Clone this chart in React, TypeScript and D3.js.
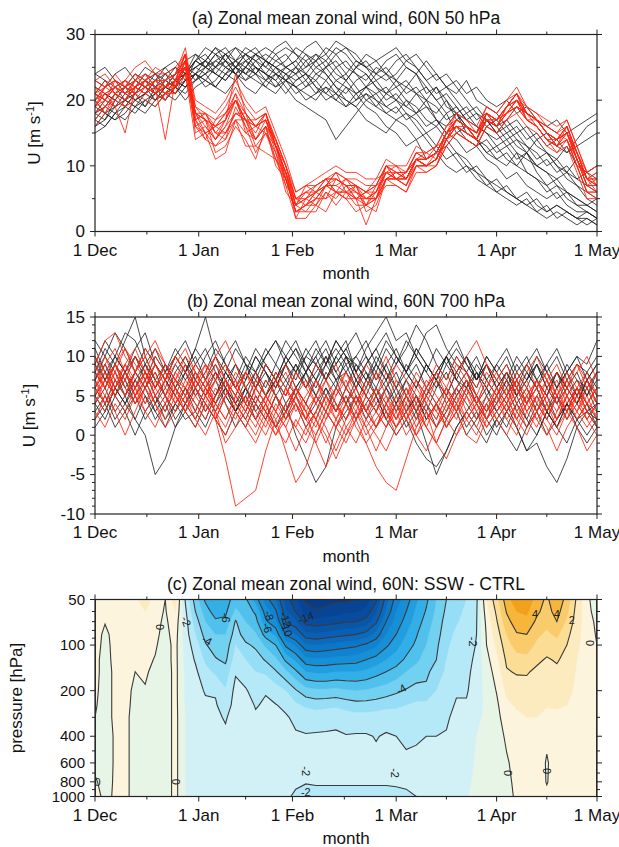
import React from "react";
import * as d3 from "d3";

// ---------- shared axis data ----------
const DAYS = d3.range(0, 151, 3); // sample days since 1 Dec (0..150)
const monthTickDays = [0, 31, 59, 90, 120, 150];
const monthLabels = ["1 Dec", "1 Jan", "1 Feb", "1 Mar", "1 Apr", "1 May"];
const minorTickDays = [15.5, 45, 74.5, 105, 135];

// ---------- panel (a): 60N 50 hPa, CTRL (black) ----------
const ctrl50: number[][] = [
  [18,19,21,20,22,23,22,24,25,24, 26,27,25,26,28,27,26,25,27,28, 27,26,24,25,27,28,26,25,23,24, 26,27,25,23,24,22,21,23,20,19, 18,16,17,15,13,12,10,8,7,5,4],
  [22,21,20,19,21,23,24,23,22,24, 25,24,26,27,25,23,24,26,25,24, 22,23,25,24,22,21,23,24,22,20, 21,19,18,20,17,15,14,12,13,11, 10,8,9,7,6,5,6,4,3,3,2],
  [17,16,18,19,18,20,21,20,22,23, 24,23,22,24,25,26,24,23,25,26, 28,27,25,26,24,23,25,27,26,24, 23,25,24,22,20,21,19,17,16,15, 13,14,12,11,10,9,7,6,5,4,3],
  [20,22,23,21,20,19,21,22,24,25, 24,22,23,25,24,22,21,23,24,22, 20,19,18,17,14,16,18,20,19,21, 22,20,18,19,17,16,18,15,14,12, 13,11,10,12,9,7,8,6,5,4,5],
  [19,18,17,18,20,21,22,21,20,22, 23,25,26,25,24,26,27,25,24,23, 24,26,27,25,23,24,26,25,24,26, 27,25,24,26,24,22,23,21,22,20, 19,20,18,19,17,16,17,15,16,17,18],
  [24,25,23,22,24,23,21,22,23,24, 26,28,27,25,26,27,28,26,25,24, 23,24,22,21,23,22,20,21,19,18, 17,18,16,14,12,13,11,9,10,8, 7,6,5,6,4,3,4,3,2,2,1],
  [16,17,19,20,19,18,20,22,21,23, 25,26,24,23,25,24,26,27,26,25, 26,28,29,27,25,26,24,23,25,24, 22,23,21,20,22,19,18,16,14,13, 11,12,10,9,8,6,7,5,4,3,2],
  [21,20,19,20,22,24,23,25,26,24, 27,26,28,27,25,24,25,23,22,24, 25,23,21,22,20,19,21,22,20,19, 20,22,21,19,18,20,17,18,16,15, 14,15,13,12,14,12,11,13,10,9,8],
  [18,20,22,23,22,21,23,24,22,21, 23,24,25,27,28,26,25,24,26,27, 25,24,26,28,27,25,24,22,23,21, 20,19,21,22,20,18,19,17,18,16, 17,15,16,14,15,13,14,12,13,14,15],
  [19,21,20,22,23,22,24,25,23,22, 24,25,24,26,25,27,26,24,23,25, 24,22,23,21,20,22,21,19,18,16, 15,13,14,11,12,10,9,10,8,7, 8,6,5,4,5,3,4,3,2,3,2],
  [23,22,24,25,23,22,20,21,23,24, 25,26,28,26,24,25,27,28,27,25, 24,25,27,26,28,27,25,26,24,23, 24,26,25,23,21,22,20,18,19,17, 15,13,14,12,10,9,8,9,7,6,5],
  [15,16,18,17,19,20,19,21,22,20, 22,23,22,24,23,25,24,22,21,23, 22,21,20,22,21,20,19,21,20,18, 19,17,18,16,17,15,16,14,13,14, 12,13,11,12,10,11,9,10,8,9,10],
  [20,18,19,21,23,25,24,22,21,23, 24,26,25,27,26,24,23,22,24,25, 26,24,23,25,26,24,22,20,21,22, 20,18,17,15,16,14,12,11,9,8, 6,7,5,4,3,4,2,3,2,1,2],
  [17,19,18,20,21,19,22,23,22,24, 26,25,27,28,26,25,27,26,24,23, 21,22,24,23,25,23,21,22,24,25, 23,21,22,20,19,17,18,16,15,17, 16,14,15,13,12,10,11,9,8,7,6],
  [24,23,21,22,20,21,23,22,24,26, 27,25,24,23,25,27,25,24,22,23, 25,27,26,24,22,20,19,17,16,15, 17,16,14,15,13,11,12,10,9,7, 6,5,4,5,3,2,3,2,1,2,1],
  [21,23,22,20,19,21,20,22,23,22, 24,23,25,24,26,28,27,26,28,29, 27,25,26,27,29,28,27,25,26,27, 28,26,27,25,23,24,22,20,18,17, 15,16,14,13,11,12,10,9,11,8,7],
  [18,17,20,22,21,23,22,20,22,25, 23,24,22,21,23,25,24,26,25,23, 22,20,21,23,21,19,20,22,21,19, 18,20,19,17,16,18,15,16,14,12, 11,10,12,9,8,7,5,6,4,4,3],
  [16,18,17,19,21,22,21,23,25,23, 26,25,27,26,24,23,25,24,23,21, 23,24,22,20,21,23,25,24,22,21, 23,22,24,21,22,20,18,19,17,18, 16,17,15,16,14,15,13,12,14,16,17],
];

// ---------- panel (a): 60N 50 hPa, SSW (red) ----------
const ssw50: number[][] = [
  [18,20,22,21,23,24,22,20,23,27, 18,17,14,16,20,17,15,18,13,9, 3,4,6,7,8,7,6,4,6,9, 8,7,11,10,12,15,17,16,14,18, 17,19,21,18,17,15,13,16,12,8,7],
  [21,19,20,22,21,23,24,22,22,25, 16,14,17,18,20,17,13,15,12,6, 4,7,6,5,8,7,5,6,8,9, 10,8,11,12,11,15,16,16,14,17, 17,18,20,19,17,16,15,14,11,8,6],
  [22,21,19,15,22,21,23,23,24,28, 19,18,15,15,18,17,16,17,14,10, 4,5,7,8,6,6,7,5,5,8, 9,8,10,10,11,15,16,15,14,17, 16,19,21,17,16,14,14,15,12,8,9],
  [19,20,23,22,24,22,21,20,22,26, 15,16,14,16,18,17,14,16,13,9, 4,3,5,7,6,8,7,3,4,8, 8,9,11,10,11,14,17,16,15,18, 17,18,19,18,17,15,14,16,11,7,8],
  [17,19,21,20,22,23,22,14,23,25, 18,17,16,18,20,18,16,18,13,9, 5,5,6,7,9,8,7,6,6,9, 8,9,11,11,13,14,17,16,14,18, 16,19,20,17,17,15,13,15,12,9,7],
  [20,22,21,20,23,22,21,23,24,27, 17,14,13,14,19,16,12,15,11,9, 2,5,4,6,5,7,5,6,5,9, 8,7,10,10,11,14,16,15,14,17, 16,18,20,17,16,14,13,14,10,6,5],
  [23,22,23,22,24,23,22,21,22,26, 17,18,17,19,22,19,17,18,14,10, 5,6,7,8,8,7,7,6,7,10, 9,9,12,11,12,15,18,17,15,19, 18,20,22,19,18,16,15,17,13,9,10],
  [19,21,22,23,21,22,23,22,24,26, 17,18,15,14,17,17,16,15,13,7, 5,4,6,8,6,5,7,4,7,8, 8,8,11,10,11,14,16,15,14,17, 16,18,19,18,17,15,14,15,11,7,7],
  [21,20,22,21,22,23,21,22,23,25, 19,17,15,17,24,18,16,17,13,9, 4,5,6,7,7,6,6,5,6,9, 9,8,11,11,12,15,17,16,15,18, 17,19,20,18,17,15,14,16,12,8,8],
  [20,21,22,21,23,22,23,21,22,26, 18,15,16,15,18,18,14,16,14,8, 3,4,4,7,9,6,5,5,5,10, 8,8,11,10,11,14,16,15,14,17, 16,18,20,18,17,15,14,15,11,7,7],
  [18,19,21,22,23,22,21,22,23,27, 16,15,13,15,17,15,14,16,11,8, 3,4,5,5,6,6,5,1,5,8, 8,7,10,10,10,14,15,14,13,16, 15,17,19,17,16,14,13,14,10,6,6],
  [21,22,23,21,22,24,22,22,24,25, 18,17,16,17,20,17,17,18,13,10, 5,6,6,8,8,7,7,6,7,10, 9,9,12,11,12,15,17,16,15,18, 17,19,21,18,17,15,14,16,12,8,9],
  [16,18,20,19,21,20,19,21,22,24, 14,15,11,12,17,13,13,12,11,7, 2,2,4,3,6,5,3,4,3,8, 7,6,9,9,10,13,15,14,13,16, 15,17,18,16,15,13,12,13,9,5,5],
  [23,24,22,23,25,26,24,24,25,27, 20,19,18,20,23,20,18,19,15,11, 6,7,8,9,10,9,9,8,8,11, 10,10,13,12,13,16,18,17,16,19, 18,20,21,19,18,17,16,17,13,9,10],
  [20,18,21,23,22,21,20,21,21,24, 16,17,12,13,16,14,11,16,10,8, 3,3,3,6,4,6,4,4,5,7, 7,6,10,9,10,13,15,14,13,16, 15,17,19,17,16,14,12,14,10,6,6],
  [19,22,24,22,21,23,25,24,23,27, 18,18,16,18,21,18,16,18,14,10, 6,7,7,8,9,8,8,7,7,10, 10,9,12,12,13,16,17,16,15,18, 17,19,20,18,17,16,15,16,12,8,8],
  [22,20,19,20,22,21,22,21,23,26, 17,15,16,17,21,15,16,17,13,8, 4,6,5,7,7,8,6,5,6,10, 8,8,11,10,11,14,16,15,14,17, 16,18,19,18,17,15,14,15,11,7,6],
  [21,23,21,19,20,22,21,23,22,25, 18,16,14,17,20,16,14,17,12,8, 3,4,5,7,6,5,5,4,5,8, 9,8,11,11,12,15,17,16,14,17, 17,19,21,18,16,14,13,15,11,8,7],
];

// ---------- panel (b): 60N 700 hPa, CTRL (black) ----------
const ctrl700: number[][] = [
  [8,11,9,12,15,10,7,9,6,8, 11,15,10,7,5,8,6,9,7,5, 8,6,9,7,10,8,6,9,11,8, 6,9,7,5,8,10,7,6,8,5, 7,9,6,4,7,5,8,6,4,7,9],
  [4,6,3,5,2,0,-5,-3,1,4, 6,3,5,8,6,4,7,5,8,6, 9,7,5,8,6,10,7,5,8,6, 4,7,5,3,6,8,5,7,4,6, 3,5,7,4,6,3,5,2,4,6,3],
  [10,7,9,6,8,11,9,7,10,8, 5,7,9,6,4,7,10,8,6,9, 7,10,12,9,7,8,10,8,6,9, 11,8,6,9,7,5,8,10,7,9, 6,8,5,7,9,6,8,5,7,6,8],
  [6,4,7,5,8,6,3,5,2,4, 7,5,3,6,4,2,5,3,1,4, 0,-3,-6,-4,1,3,5,2,4,6, 3,5,2,4,1,3,6,4,2,5, 3,1,4,2,5,3,1,4,2,3,1],
  [7,9,6,8,5,7,10,8,11,9, 6,8,11,9,7,10,8,11,9,12, 10,8,11,9,12,10,8,11,13,15, 12,13,10,8,11,9,7,10,8,6, 9,7,10,8,6,9,11,8,10,7,9],
  [5,3,6,4,7,5,2,4,1,3, 6,4,2,5,3,6,4,7,5,3, 6,4,2,5,7,4,6,3,5,2, 4,1,3,-1,-5,-2,1,3,5,2, 4,6,3,1,4,2,5,3,6,4,2],
  [9,12,10,8,11,13,9,7,10,8, 11,9,7,10,12,9,8,10,12,9, 11,8,10,12,9,11,13,10,8,11, 9,12,10,13,14,11,9,8,10,7, 9,11,8,10,7,9,6,8,10,9,12],
  [6,8,5,7,4,6,8,5,3,6, 4,2,5,7,4,6,3,5,7,4, 6,8,5,3,6,4,7,5,3,6, 8,5,3,6,4,2,5,7,4,2, 0,3,1,-2,-1,-4,-6,-3,1,3,2],
  [3,5,2,4,6,8,5,3,6,4, 2,5,7,4,1,3,6,8,5,7, 9,6,8,10,7,9,6,8,5,7, 4,6,3,5,7,4,6,8,5,3, 5,7,4,6,3,5,2,4,6,3,4],
  [11,8,10,13,12,9,11,8,6,9, 7,10,12,9,6,8,11,9,7,10, 8,11,9,7,10,12,8,10,7,9, 6,8,11,9,7,10,8,6,9,7, 5,8,6,9,7,5,8,6,4,7,5],
  [2,4,1,3,5,2,4,7,5,3, 1,4,2,0,3,5,2,4,1,3, 5,2,4,6,3,5,2,4,6,3, 1,3,5,2,4,1,3,0,2,4, 1,3,5,2,0,3,1,4,2,0,2],
  [8,6,9,7,10,8,6,9,7,5, 8,6,4,7,9,6,8,5,7,9, 6,8,10,7,9,11,8,6,9,7, 10,8,6,9,7,5,8,10,7,9, 6,8,5,7,9,6,4,7,5,8,6],
  [5,7,10,8,6,9,7,5,8,10, 7,5,8,6,9,7,10,8,6,9, 11,9,7,10,8,6,9,7,10,8, 5,7,9,6,8,10,7,5,8,6, 4,7,5,8,6,3,6,8,5,7,4],
  [9,7,5,8,10,7,4,6,9,7, 9,11,8,6,3,5,8,6,9,7, 5,8,6,9,11,9,10,12,9,7, 9,11,14,12,9,7,10,8,6,9, 7,5,8,6,9,7,4,6,8,5,7],
  [1,3,6,4,2,5,3,1,4,2, 3,1,4,6,3,1,4,2,5,3, 6,4,7,5,3,6,4,7,5,2, 0,2,-1,-3,-4,-2,1,3,1,-1, 2,0,-2,1,3,0,2,4,1,-1,1],
  [7,10,8,5,7,9,6,8,10,12, 9,7,10,8,6,9,7,10,12,10, 8,10,9,11,8,10,9,7,9,12, 10,8,10,8,6,9,11,9,7,10, 8,10,7,9,11,8,10,7,9,8,10],
  [4,2,5,3,0,3,5,2,4,6, 3,6,8,5,3,6,4,2,5,2, 4,1,3,6,4,2,5,3,1,4, 6,3,5,2,4,6,4,1,3,0, 2,4,1,-2,0,3,1,-1,2,4,1],
  [12,10,13,11,8,6,9,7,5,8, 10,7,5,8,11,9,6,9,7,10, 12,9,7,9,12,10,7,9,11,13, 10,8,11,9,7,10,12,9,7,10, 8,6,9,7,10,8,6,9,7,5,8],
];

// ---------- panel (b): 60N 700 hPa, SSW (red) ----------
const ssw700: number[][] = [
  [7,9,11,8,6,4,7,5,3,5, 7,9,2,-3,-9,-8,-7,-2,2,4, 6,3,5,7,4,2,5,3,6,4, 2,5,7,4,2,5,3,6,4,2, 5,7,4,6,3,5,7,4,6,3,5],
  [5,8,6,9,7,4,6,8,5,3, 6,4,2,5,7,4,2,5,3,1, 4,2,5,3,6,4,1,-1,-4,-6, -7,-3,1,4,2,5,3,6,4,7, 5,3,6,4,7,5,3,6,4,2,4],
  [8,6,9,7,5,8,6,4,7,5, 3,6,4,2,5,3,1,4,2,-2, -6,-4,0,3,1,4,2,5,3,1, 4,2,5,3,1,4,6,3,5,2, 4,6,3,5,7,4,2,5,3,6,4],
  [9,12,13,10,8,11,9,7,10,8, 6,9,7,5,8,6,4,7,5,3, 6,4,2,5,3,6,4,2,5,3, 1,4,2,5,3,6,4,7,5,3, 6,4,7,5,3,6,8,5,7,4,6],
  [6,4,7,5,8,10,7,5,8,6, 9,7,10,12,9,6,8,5,3,6, 4,2,5,3,1,4,2,5,3,1, 4,2,0,3,1,4,2,5,3,1, 3,5,2,4,6,3,5,7,4,2,4],
  [7,5,8,6,4,7,9,6,4,7, 5,3,6,4,2,5,3,1,4,2, 5,3,1,4,2,5,3,6,4,2, 5,3,6,4,7,5,8,10,12,9, 7,5,8,6,4,7,5,8,6,4,6],
  [4,7,5,3,6,8,5,3,6,4, 2,5,3,1,4,2,0,3,1,-1, 2,0,3,1,-2,1,3,0,2,4, 1,3,0,-2,1,3,5,2,4,1, 3,5,2,0,3,1,-2,1,3,5,2],
  [10,8,6,9,11,8,6,9,7,10, 8,6,9,7,5,8,6,9,7,5, 8,6,4,7,9,6,4,7,5,8, 6,4,7,5,8,6,9,7,5,8, 6,4,7,9,6,8,5,7,9,6,8],
  [3,1,4,2,5,7,4,2,5,3, 1,4,2,0,3,1,-1,2,0,3, 1,-1,2,0,-3,0,2,-1,1,3, 0,2,4,1,-1,2,0,3,1,4, 2,0,3,5,2,4,1,3,5,2,0],
  [6,9,7,5,8,6,9,7,10,8, 6,4,7,9,6,4,7,5,8,6, 3,5,7,4,6,8,5,3,6,4, 7,5,3,6,4,2,5,7,4,6, 8,5,7,4,6,8,5,3,6,8,5],
  [8,10,7,9,6,8,11,9,7,5, 8,6,3,5,7,4,2,5,3,6, 4,1,3,5,2,4,6,3,1,4, 2,5,3,1,4,6,3,5,2,4, 6,3,5,7,4,2,5,3,6,4,3],
  [5,3,6,8,5,3,1,4,6,3, 5,7,4,2,5,3,6,4,1,3, 5,2,0,3,1,-1,2,4,1,3, 5,2,4,1,-1,2,4,6,3,5, 2,4,6,3,1,4,2,5,3,1,3],
  [9,6,8,11,9,7,10,8,6,4, 7,5,8,6,3,1,4,2,5,3, 1,4,2,-1,2,0,3,1,-2,1, 3,0,2,5,3,1,4,2,0,3, 5,2,4,1,3,6,4,2,5,3,1],
  [6,8,5,7,10,8,5,7,9,11, 8,6,4,7,5,3,6,4,7,9, 6,4,7,5,3,6,8,5,3,6, 9,7,4,6,8,5,3,6,4,7, 5,8,6,3,5,7,4,6,9,7,5],
  [2,5,3,0,3,6,4,1,3,5, 2,0,3,-1,1,4,2,0,3,1, -2,1,-1,2,4,1,-1,2,0,-2, 1,3,0,2,4,1,3,0,-1,2, 4,2,0,3,5,2,0,3,1,-2,0],
  [8,6,9,11,8,10,12,9,7,9, 6,8,10,7,5,8,6,4,7,5, 8,6,9,7,5,8,6,9,7,10, 7,5,8,6,9,7,10,8,6,9, 7,9,6,8,10,7,9,6,8,10,7],
  [7,4,6,8,6,3,5,7,4,6, 4,2,5,7,4,2,5,3,0,2, 5,3,-1,-4,-1,2,4,1,3,5, 2,4,1,3,-1,-3,0,2,4,2, 5,3,1,4,2,0,3,5,2,4,6],
  [5,7,9,6,4,6,8,5,7,6, 8,5,7,9,6,8,5,3,6,8, 5,7,4,2,5,7,4,6,8,5, 3,6,4,7,5,3,6,8,5,3, 6,4,2,5,7,4,6,3,5,7,4],
];

// ---------- panel (c): SSW - CTRL difference, one column per sample day ----------
const LEVELS = [50, 60, 70, 85, 100, 125, 150, 200, 250, 300, 400, 600, 800, 1000];
const uDiff: number[][] = [
  [0.5,0.5,0.5,0.4,0.4,0.3,0.3,0.2,0.1,0.0,-0.2,-0.2,0.1,0.3],
  [0.4,0.2,0.05,-0.2,-0.3,-0.4,-0.4,-0.4,-0.4,-0.4,-0.4,-0.4,-0.3,-0.2],
  [0.4,0.4,0.4,0.3,0.3,0.3,0.2,0.2,0.2,0.2,0.1,0.1,0.1,0.1],
  [0.6,0.5,0.4,0.4,0.3,0.3,0.3,0.3,0.3,0.2,0.2,0.2,0.2,0.2],
  [0.8,0.6,0.4,0.3,0.2,0.1,0.0,-0.2,-0.3,-0.3,-0.3,-0.3,-0.3,-0.3],
  [1.5,1.0,0.6,0.4,0.3,0.2,0.1,-0.05,-0.2,-0.3,-0.3,-0.4,-0.4,-0.4],
  [0.6,0.4,0.3,0.2,0.1,-0.05,-0.2,-0.3,-0.4,-0.4,-0.5,-0.5,-0.5,-0.5],
  [0.0,-0.1,-0.2,-0.3,-0.4,-0.4,-0.5,-0.5,-0.5,-0.5,-0.5,-0.5,-0.5,-0.5],
  [1.5,1.0,0.6,0.4,0.3,0.3,0.3,0.3,0.3,0.3,0.3,0.3,0.3,0.3],
  [-2.1,-1.8,-1.6,-1.5,-1.4,-1.3,-1.2,-1.2,-1.1,-1.0,-1.0,-1.0,-1.0,-1.0],
  [-4.5,-4.0,-3.5,-3.0,-2.5,-2.1,-1.8,-1.6,-1.5,-1.5,-1.4,-1.4,-1.4,-1.3],
  [-6.2,-5.5,-5.0,-4.4,-3.9,-3.2,-2.7,-2.1,-1.8,-1.7,-1.6,-1.5,-1.5,-1.5],
  [-7.0,-6.5,-5.8,-5.0,-4.5,-3.9,-3.2,-2.1,-1.9,-1.8,-1.7,-1.6,-1.6,-1.5],
  [-6.5,-6.2,-5.8,-5.0,-4.6,-4.2,-3.6,-2.9,-2.5,-2.1,-1.8,-1.7,-1.6,-1.6],
  [-5.5,-4.8,-3.9,-3.5,-3.0,-2.5,-2.1,-1.7,-1.6,-1.5,-1.5,-1.5,-1.5,-1.5],
  [-5.8,-5.4,-5.0,-4.5,-3.8,-3.0,-2.5,-1.9,-1.7,-1.6,-1.5,-1.5,-1.5,-1.5],
  [-7.5,-6.2,-5.6,-4.9,-4.2,-3.5,-3.0,-2.4,-2.05,-1.9,-1.7,-1.6,-1.6,-1.6],
  [-9.5,-8.5,-7.8,-6.4,-5.2,-4.1,-3.2,-2.05,-1.9,-1.85,-1.8,-1.7,-1.7,-1.7],
  [-11,-9.8,-8.8,-7.2,-6.0,-4.8,-3.9,-2.5,-1.95,-1.9,-1.8,-1.8,-1.8,-1.8],
  [-13.5,-12.8,-12.1,-10.1,-8.2,-6.2,-4.8,-3.0,-2.2,-1.9,-1.8,-1.8,-1.8,-1.9],
  [-14.8,-14.1,-12.8,-11,-9.2,-7.2,-5.8,-3.9,-2.8,-2.2,-1.9,-1.85,-1.9,-2.1],
  [-16.2,-15.4,-14.4,-12.6,-10.8,-8.6,-7.0,-4.6,-3.2,-2.3,-1.95,-1.9,-1.95,-2.3],
  [-16.8,-15.8,-14.6,-12.8,-11,-8.8,-7.2,-4.8,-3.4,-2.4,-1.9,-1.8,-1.9,-2.3],
  [-16.5,-15.6,-14.5,-12.6,-10.8,-8.7,-7.2,-4.8,-3.3,-2.3,-1.9,-1.8,-1.9,-2.3],
  [-16.2,-15.4,-14.3,-12.4,-10.6,-8.6,-7.0,-4.7,-3.2,-2.2,-1.9,-1.8,-1.9,-2.3],
  [-16.2,-15.2,-14.1,-12.2,-10.4,-8.5,-7.0,-4.9,-3.4,-2.5,-1.95,-1.8,-1.9,-2.3],
  [-16,-15.1,-14.0,-12,-10.2,-8.4,-7.0,-5.0,-3.6,-2.6,-1.9,-1.8,-1.9,-2.3],
  [-15.5,-14.7,-13.6,-11.6,-9.8,-8.0,-6.8,-4.9,-3.6,-2.6,-1.9,-1.8,-1.9,-2.3],
  [-14.2,-13.2,-12.2,-10.6,-9.2,-7.6,-6.4,-4.7,-3.5,-2.5,-2.05,-1.8,-1.9,-2.3],
  [-11.5,-10.8,-10,-9.0,-8.2,-7.0,-6.0,-4.5,-3.3,-2.4,-1.9,-1.8,-1.9,-2.3],
  [-9.5,-9.0,-8.6,-8.0,-7.4,-6.5,-5.6,-4.2,-3.2,-2.5,-2.0,-1.8,-1.9,-2.2],
  [-8.5,-8.0,-7.6,-7.0,-6.5,-5.8,-5.0,-3.9,-3.0,-2.4,-2.1,-1.9,-1.9,-2.1],
  [-7.2,-6.8,-6.5,-6.1,-5.8,-5.2,-4.6,-3.6,-2.8,-2.3,-2.05,-1.9,-1.9,-2.0],
  [-6.2,-5.9,-5.6,-5.2,-5.0,-4.6,-4.2,-3.8,-2.7,-2.3,-2.0,-1.8,-1.7,-1.8],
  [-5.0,-4.8,-4.6,-4.4,-4.2,-4.0,-3.6,-3.0,-2.5,-2.2,-2.0,-1.7,-1.6,-1.6],
  [-4.0,-3.8,-3.6,-3.4,-3.2,-3.0,-2.8,-2.5,-2.3,-2.1,-1.95,-1.6,-1.5,-1.5],
  [-3.6,-3.3,-3.1,-2.8,-2.6,-2.4,-2.3,-2.1,-1.9,-1.8,-1.6,-1.4,-1.3,-1.3],
  [-3.0,-2.8,-2.7,-2.5,-2.4,-2.3,-2.2,-2.1,-1.9,-1.7,-1.5,-1.3,-1.2,-1.1],
  [-2.2,-2.1,-2.05,-2.0,-1.95,-1.8,-1.7,-1.5,-1.4,-1.2,-1.0,-0.9,-0.8,-0.7],
  [1.0,0.6,0.3,0.1,0.0,-0.3,-0.5,-0.7,-0.8,-0.8,-0.8,-0.7,-0.6,-0.5],
  [2.6,2.2,1.9,1.5,1.2,0.7,0.4,0.05,-0.2,-0.3,-0.4,-0.4,-0.4,-0.3],
  [4.6,4.1,3.6,3.0,2.6,2.2,1.9,1.2,0.8,0.5,0.15,-0.1,-0.2,-0.2],
  [5.6,5.0,4.6,3.9,3.4,2.6,2.1,1.5,1.1,0.8,0.5,0.3,0.2,0.1],
  [5.8,5.2,4.7,4.0,3.5,2.7,2.1,1.6,1.3,1.0,0.7,0.5,0.4,0.3],
  [4.5,4.2,3.8,3.2,2.8,2.2,1.8,1.5,1.3,1.0,0.8,0.6,0.5,0.4],
  [3.8,3.6,3.3,2.8,2.4,1.9,1.7,1.4,1.1,0.6,0.2,-0.1,-0.05,0.2],
  [4.8,4.4,4.0,3.2,2.6,2.1,1.8,1.4,1.1,0.8,0.6,0.5,0.4,0.4],
  [3.6,3.2,2.8,2.3,2.0,1.7,1.5,1.3,1.0,0.8,0.6,0.5,0.4,0.4],
  [1.8,1.6,1.5,1.3,1.2,1.0,0.9,0.8,0.7,0.6,0.5,0.4,0.4,0.4],
  [0.2,0.3,0.4,0.5,0.5,0.5,0.5,0.5,0.4,0.4,0.4,0.3,0.3,0.3],
  [-0.5,-0.4,-0.2,-0.1,0.0,0.2,0.3,0.3,0.3,0.3,0.3,0.3,0.3,0.3],
];
const fillLevels = d3.range(-17, 7); // 1 m/s shading bands
const lineLevels = [-16, -14, -12, -10, -8, -6, -4, -2, 0, 2, 4];
const pressureTicks = [50, 100, 200, 400, 600, 800, 1000];
const pressureMinor = [60, 70, 80, 90, 300, 500, 700, 900];
const contourLabels = [
  { t: "0", d: 0.8, p: 800, r: 0 },
  { t: "0", d: 19.5, p: 76, r: 90 },
  { t: "0", d: 24.3, p: 800, r: 90 },
  { t: "-2", d: 27.2, p: 70, r: 70 },
  { t: "-4", d: 33.5, p: 93, r: 30 },
  { t: "-6", d: 39, p: 66, r: 90 },
  { t: "-8", d: 52, p: 64, r: 75 },
  { t: "-6", d: 51.5, p: 77, r: 75 },
  { t: "-12", d: 57, p: 68, r: 70 },
  { t: "-10", d: 57.2, p: 78, r: 70 },
  { t: "-14", d: 63, p: 66, r: -20 },
  { t: "-4", d: 91.5, p: 196, r: -30 },
  { t: "-2", d: 113, p: 95, r: 90 },
  { t: "4", d: 131.5, p: 62, r: 0 },
  { t: "4", d: 138, p: 62, r: 0 },
  { t: "2", d: 142.5, p: 68, r: 0 },
  { t: "0", d: 148, p: 97, r: 90 },
  { t: "0", d: 123.5, p: 700, r: 90 },
  { t: "0", d: 135, p: 680, r: 90 },
  { t: "-2", d: 63, p: 680, r: 90 },
  { t: "-2", d: 89.5, p: 700, r: 90 },
  { t: "-2", d: 63, p: 935, r: 0 },
];

// ---------- layout / style ----------
const W = 619, H = 847;
const L = 95, R = 597, PH = 197;
const TOPS = [34.5, 317, 599.5];
const FONT = "'Liberation Sans', Arial, Helvetica, sans-serif";
const negColors = ["#e7f5e6","#d2f1f6","#b6e9f7","#95def5","#72d0f1","#50c1ed","#33afe7","#209edf","#168fd7","#1182cf","#0e76c6","#0b6abc","#0a5fb2","#0955a8","#084c9e","#084494","#073c8a"];
const posColors = ["#fcf4dc","#fcebbe","#fbdd96","#f9cb6a","#f6b63b","#f2a21a","#ee9410"];
const bandColor = (t: number) => (t < 0 ? negColors[Math.min(-t - 1, negColors.length - 1)] : posColors[Math.min(t, posColors.length - 1)]);

const x = d3.scaleLinear().domain([0, 150]).range([L, R]);

function Axes({ top, yScale, major, minor, fmt, ySize = 17 }: any) {
  const bot = top + PH;
  const ticks: any[] = [];
  monthTickDays.forEach((d, i) => {
    const px = x(d);
    ticks.push(<line key={"xt" + i} x1={px} x2={px} y1={top} y2={top - 5} />);
    ticks.push(<line key={"xb" + i} x1={px} x2={px} y1={bot} y2={bot + 5} />);
  });
  minorTickDays.forEach((d, i) => {
    const px = x(d);
    ticks.push(<line key={"mt" + i} x1={px} x2={px} y1={top} y2={top - 3} />);
    ticks.push(<line key={"mb" + i} x1={px} x2={px} y1={bot} y2={bot + 3} />);
  });
  major.forEach((v: number, i: number) => {
    const py = yScale(v);
    ticks.push(<line key={"yl" + i} x1={L} x2={L - 5} y1={py} y2={py} />);
    ticks.push(<line key={"yr" + i} x1={R} x2={R + 5} y1={py} y2={py} />);
  });
  minor.forEach((v: number, i: number) => {
    const py = yScale(v);
    ticks.push(<line key={"ml" + i} x1={L} x2={L - 3} y1={py} y2={py} />);
    ticks.push(<line key={"mr" + i} x1={R} x2={R + 3} y1={py} y2={py} />);
  });
  return (
    <g>
      <g stroke="#222" strokeWidth={1}>{ticks}</g>
      <rect x={L} y={top} width={R - L} height={PH} fill="none" stroke="#222" strokeWidth={1.2} />
      <g fontFamily={FONT} fontSize={17} fill="#111">
        {monthTickDays.map((d, i) => (
          <text key={"xl" + i} x={x(d)} y={bot + 24} textAnchor="middle">{monthLabels[i]}</text>
        ))}
        {major.map((v: number, i: number) => (
          <text key={"ylab" + i} x={L - 10} y={yScale(v)} dy="0.34em" textAnchor="end" fontSize={ySize}>{fmt(v)}</text>
        ))}
        <text x={(L + R) / 2} y={bot + 47.5} textAnchor="middle">month</text>
      </g>
    </g>
  );
}

function Ensemble({ top, yScale, black, red, clipId }: any) {
  const line = d3.line<number>().x((_, i) => x(DAYS[i])).y((v) => yScale(v));
  return (
    <g clipPath={`url(#${clipId})`}>
      <clipPath id={clipId}><rect x={L} y={top} width={R - L} height={PH} /></clipPath>
      {black.map((s: number[], i: number) => (
        <path key={"k" + i} d={line(s) || ""} fill="none" stroke="#1c1c1c" strokeOpacity={0.8} strokeWidth={1} />
      ))}
      {red.map((s: number[], i: number) => (
        <path key={"r" + i} d={line(s) || ""} fill="none" stroke="#ff2410" strokeOpacity={0.85} strokeWidth={1} />
      ))}
    </g>
  );
}

function UTitle({ cx, cy }: any) {
  return (
    <text transform={`translate(${cx},${cy}) rotate(-90)`} textAnchor="middle" fontFamily={FONT} fontSize={17} fill="#111">
      U [m s<tspan dy="-6" fontSize={11}>-1</tspan><tspan dy="6">]</tspan>
    </text>
  );
}

export default function App() {
  const yA = d3.scaleLinear().domain([0, 30]).range([TOPS[0] + PH, TOPS[0]]);
  const yB = d3.scaleLinear().domain([-10, 15]).range([TOPS[1] + PH, TOPS[1]]);
  const yC = d3.scaleLog().domain([1000, 50]).range([TOPS[2] + PH, TOPS[2]]);

  // contour grid
  const nx = DAYS.length, ny = LEVELS.length;
  const grid: number[] = new Array(nx * ny);
  for (let j = 0; j < ny; j++) for (let i = 0; i < nx; i++) grid[j * nx + i] = uDiff[i][j];
  const gx = (g: number) => {
    const t = Math.max(0, Math.min(nx - 1, g - 0.5));
    const i0 = Math.min(nx - 2, Math.floor(t));
    const f = t - i0;
    return x(DAYS[i0] + f * (DAYS[i0 + 1] - DAYS[i0]));
  };
  const gy = (g: number) => {
    const t = Math.max(0, Math.min(ny - 1, g - 0.5));
    const j0 = Math.min(ny - 2, Math.floor(t));
    const f = t - j0;
    const lp = Math.log(LEVELS[j0]) + f * (Math.log(LEVELS[j0 + 1]) - Math.log(LEVELS[j0]));
    return yC(Math.exp(lp));
  };
  const proj = d3.geoTransform({
    point(px: number, py: number) {
      (this as any).stream.point(gx(px), gy(py));
    },
  });
  const path = d3.geoPath(proj);
  const fills = d3.contours().size([nx, ny]).thresholds(fillLevels)(grid);
  const lines = d3.contours().size([nx, ny]).thresholds(lineLevels)(grid);

  return (
    <svg width={W} height={H} style={{ position: "absolute", left: 0, top: 0, background: "#fff" }}>
      <g fontFamily={FONT} fontSize={17.5} fill="#111" textAnchor="middle">
        <text x={(L + R) / 2} y={24}>(a) Zonal mean zonal wind, 60N 50 hPa</text>
        <text x={(L + R) / 2} y={306.5}>(b) Zonal mean zonal wind, 60N 700 hPa</text>
        <text x={(L + R) / 2} y={589.5}>(c) Zonal mean zonal wind, 60N: SSW - CTRL</text>
      </g>

      {/* panel a */}
      <Ensemble top={TOPS[0]} yScale={yA} black={ctrl50} red={ssw50} clipId="clipA" />
      <Axes top={TOPS[0]} yScale={yA} major={[0, 10, 20, 30]} minor={[5, 15, 25]} fmt={(v: number) => String(v)} />
      <UTitle cx={40} cy={TOPS[0] + PH / 2} />

      {/* panel b */}
      <Ensemble top={TOPS[1]} yScale={yB} black={ctrl700} red={ssw700} clipId="clipB" />
      <Axes top={TOPS[1]} yScale={yB} major={[-10, -5, 0, 5, 10, 15]} minor={d3.range(-9, 15).filter((v) => v % 5 !== 0)} fmt={(v: number) => String(v)} />
      <UTitle cx={35} cy={TOPS[1] + PH / 2} />

      {/* panel c */}
      <g clipPath="url(#clipC)">
        <clipPath id="clipC"><rect x={L} y={TOPS[2]} width={R - L} height={PH} /></clipPath>
        <rect x={L} y={TOPS[2]} width={R - L} height={PH} fill={bandColor(-18)} />
        {fills.map((c, i) => (
          <path key={"f" + i} d={path(c as any) || ""} fill={bandColor(c.value)} stroke={bandColor(c.value)} strokeWidth={0.4} />
        ))}
        {lines.map((c, i) => (
          <path key={"l" + i} d={path(c as any) || ""} fill="none" stroke="#3a3a3a" strokeWidth={1.1} />
        ))}
        <g fontFamily={FONT} fontSize={11} fill="#222" textAnchor="middle">
          {contourLabels.map((lb, i) => (
            <text key={"cl" + i} transform={`translate(${x(lb.d)},${yC(lb.p)}) rotate(${lb.r})`} dy="0.35em">{lb.t}</text>
          ))}
        </g>
      </g>
      <Axes top={TOPS[2]} yScale={yC} major={pressureTicks} minor={pressureMinor} fmt={(v: number) => String(v)} ySize={15} />
      <text transform={`translate(22,${TOPS[2] + PH / 2}) rotate(-90)`} textAnchor="middle" fontFamily={FONT} fontSize={17} fill="#111">pressure [hPa]</text>
    </svg>
  );
}
